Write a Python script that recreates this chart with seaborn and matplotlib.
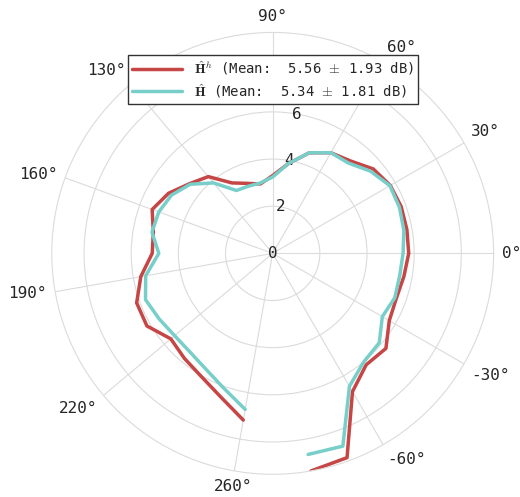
import matplotlib
matplotlib.use("Agg")
import matplotlib.pyplot as plt
import numpy as np
import pandas as pd
import seaborn as sns

# angles in degrees, one sample every 10 deg
angles = list(range(-80, 261, 10))

# red curve, H^h
gain_hh = [9.37, 9.22, 6.77, 6.17, 6.27, 5.71, 5.58, 5.65, 5.77, 5.78,
           5.80, 5.76, 5.57, 5.12, 4.93, 4.54, 3.87, 3.30, 2.99, 3.16,
           3.45, 4.25, 4.60, 5.10, 5.44, 5.14, 5.11, 5.68, 6.14, 6.16,
           5.64, 5.82, 6.04, 6.47, 7.18]

# teal curve, H
gain_h = [8.66, 8.70, 6.51, 6.01, 5.90, 5.37, 5.51, 5.47, 5.53, 5.65,
          5.72, 5.74, 5.42, 5.00, 4.93, 4.54, 3.87, 3.24, 3.03, 3.03,
          3.08, 3.90, 4.56, 4.95, 5.14, 5.20, 4.83, 5.47, 5.74, 5.56,
          5.43, 5.46, 5.67, 6.08, 6.72]

labels = [r"$\hat{\mathbf{H}}^h$ (Mean:  5.56 $\pm$ 1.93 dB)",
          r"$\hat{\mathbf{H}}$ (Mean:  5.34 $\pm$ 1.81 dB)"]

grid_angles = [0, 30, 60, 90, 130, 160, 190, 220, 260, 300, 330]
grid_labels = ["0°", "30°", "60°", "90°", "130°", "160°", "190°", "220°",
               "260°", "-60°", "-30°"]
r_ticks = [0, 2, 4, 6, 8]

sns.set_style("whitegrid", {"grid.color": ".86", "axes.edgecolor": ".86"})
plt.rcParams["font.family"] = ["DejaVu Sans Mono"]
plt.rcParams["mathtext.fontset"] = "cm"

df = pd.DataFrame({"theta": np.deg2rad(angles), "hh": gain_hh, "h": gain_h})

fig = plt.figure(figsize=(5.2, 4.97), dpi=100)
ax = fig.add_axes([0.0994, 0.0457, 0.85, 0.889], projection="polar")

sns.lineplot(data=df, x="theta", y="hh", ax=ax, sort=False, color="#c64545",
             linewidth=2.5, label=labels[0])
sns.lineplot(data=df, x="theta", y="h", ax=ax, sort=False, color="#78cfc9",
             linewidth=2.5, label=labels[1])

ax.set_xlabel("")
ax.set_ylabel("")
ax.set_thetagrids(grid_angles, grid_labels, fontsize=11.5)
ax.tick_params(axis="x", pad=-4.5)
# anchor each angle label by its inner edge, like the original
for tick, a in zip(ax.xaxis.get_major_ticks(), grid_angles):
    c, s = np.cos(np.deg2rad(a)), np.sin(np.deg2rad(a))
    ha = "left" if c > 0.2 else ("right" if c < -0.2 else "center")
    va = "bottom" if s > 0.45 else ("top" if s < -0.45 else "center")
    tick.label1.set_ha(ha)
    tick.label1.set_va(va)

ax.set_yticks(r_ticks)
ax.set_yticklabels([str(v) for v in r_ticks], fontsize=11.5)
ax.set_rlabel_position(80)
ax.tick_params(axis="y", pad=0)
for t in ax.get_yticklabels():
    t.set_ha("center")
    t.set_va("center")
ax.set_ylim(0, max(gain_hh))
ax.grid(True, linewidth=0.8)

leg = ax.legend(loc="upper center", bbox_to_anchor=(0.525, 0.889),
                bbox_transform=fig.transFigure, fontsize=10, frameon=True,
                fancybox=False, framealpha=1, edgecolor="#333333",
                handlelength=3.6, borderpad=0.3, labelspacing=0.35,
                borderaxespad=0)
leg.set_zorder(10)
leg.get_frame().set_linewidth(1.0)

fig.savefig("out.png", dpi=100)
